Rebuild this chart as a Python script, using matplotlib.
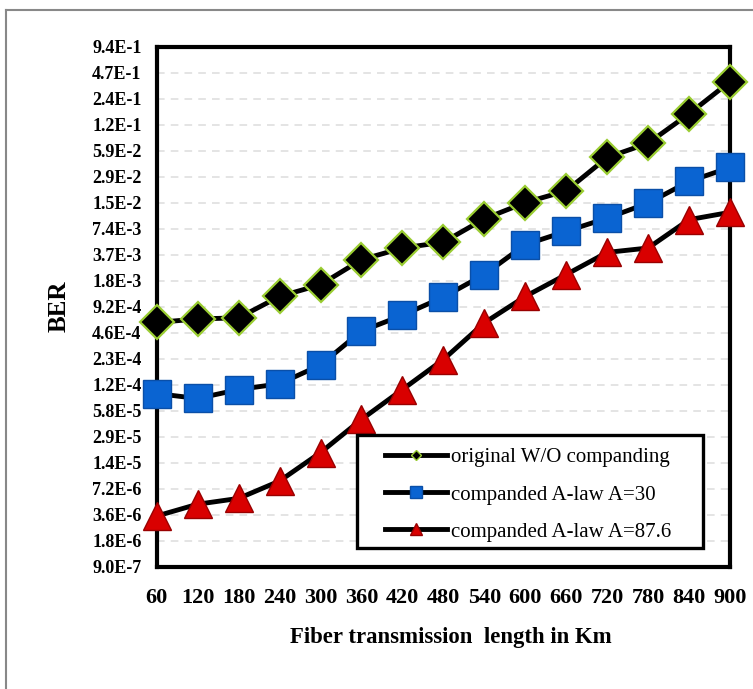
import numpy as np
import matplotlib
matplotlib.use("Agg")
import matplotlib.pyplot as plt
from matplotlib.lines import Line2D
from matplotlib.patches import Rectangle

plt.rcParams['font.family'] = ['Liberation Serif', 'DejaVu Serif']

# fiber length in km
length_km = [60, 120, 180, 240, 300, 360, 420, 480, 540, 600, 660, 720, 780, 840, 900]

# BER
ber_original = [6.1e-4, 6.7e-4, 6.9e-4, 1.22e-3, 1.67e-3, 3.25e-3, 4.44e-3, 5.18e-3,
                9.66e-3, 1.49e-2, 2.04e-2, 4.96e-2, 7.26e-2, 1.59e-1, 3.75e-1]
ber_a30 = [9.16e-5, 8.04e-5, 1.02e-4, 1.19e-4, 1.96e-4, 4.84e-4, 7.38e-4, 1.20e-3,
           2.19e-3, 4.86e-3, 6.93e-3, 9.86e-3, 1.47e-2, 2.62e-2, 3.81e-2]
ber_a876 = [3.5e-6, 4.8e-6, 5.6e-6, 8.9e-6, 1.9e-5, 4.6e-5, 1.02e-4, 2.27e-4,
            6.04e-4, 1.22e-3, 2.19e-3, 3.95e-3, 4.44e-3, 9.46e-3, 1.15e-2]

ytick_labels = ["9.0E-7", "1.8E-6", "3.6E-6", "7.2E-6", "1.4E-5", "2.9E-5", "5.8E-5",
                "1.2E-4", "2.3E-4", "4.6E-4", "9.2E-4", "1.8E-3", "3.7E-3", "7.4E-3",
                "1.5E-2", "2.9E-2", "5.9E-2", "1.2E-1", "2.4E-1", "4.7E-1", "9.4E-1"]

labels = ["original W/O companding", "companded A-law A=30", "companded A-law A=87.6"]

fig = plt.figure(figsize=(7.53, 6.89), dpi=100)
ax = fig.add_axes([0.2081, 0.1771, 0.7614, 0.7547])

# y axis doubles at every tick
yticks = 9.0e-7 * 2.0 ** np.arange(len(ytick_labels))
ax.set_yscale('log', base=2)
ax.set_ylim(yticks[0], yticks[-1])
ax.set_yticks(yticks)
ax.set_yticklabels(ytick_labels)
ax.set_yticks([], minor=True)

ax.set_xlim(60, 900)
ax.set_xticks(length_km)
ax.set_xticklabels([str(v) for v in length_km])

ax.yaxis.grid(True, color='#dddddd', linestyle=(0, (5, 4)), linewidth=1.1)
ax.set_axisbelow(True)

line_kw = dict(color='black', linewidth=3.5, clip_on=False, zorder=3)
ax.plot(length_km, ber_original, marker='D', markersize=17,
        markerfacecolor='black', markeredgecolor='#9acd32', markeredgewidth=1.6,
        **line_kw)
ax.plot(length_km, ber_a30, marker='s', markersize=19.5,
        markerfacecolor='#0a64d2', markeredgecolor='#0a4fa8', markeredgewidth=1,
        **line_kw)
ax.plot(length_km, ber_a876, marker='^', markersize=20,
        markerfacecolor='#d90000', markeredgecolor='#990000', markeredgewidth=1,
        **line_kw)

for s in ax.spines.values():
    s.set_linewidth(3)
    s.set_color('black')

ax.tick_params(axis='both', length=0)
ax.tick_params(axis='y', pad=11, labelsize=13)
ax.tick_params(axis='x', pad=15, labelsize=16)
for t in ax.get_xticklabels() + ax.get_yticklabels():
    t.set_fontweight('bold')

ax.set_xlabel("Fiber transmission  length in Km", fontsize=16.4, fontweight='bold')
ax.xaxis.set_label_coords(0.513, -0.116)
ax.set_ylabel("BER", fontsize=18, fontweight='bold')
ax.yaxis.set_label_coords(-0.150, 0.502)

# legend: frame drawn separately, entries placed inside it
handles = [
    Line2D([], [], color='black', lw=3.5, marker='D', ms=5,
           mfc='black', mec='#9acd32'),
    Line2D([], [], color='black', lw=3.5, marker='s', ms=9,
           mfc='#0a64d2', mec='#0a4fa8'),
    Line2D([], [], color='black', lw=3.5, marker='^', ms=9,
           mfc='#d90000', mec='#990000'),
]
ax.add_patch(Rectangle((0.349, 0.036), 0.6046, 0.218, transform=ax.transAxes,
                       facecolor='white', edgecolor='black', linewidth=2.4,
                       zorder=4, clip_on=False))
leg = ax.legend(handles, labels, loc='upper left', bbox_to_anchor=(0.398, 0.229),
                fontsize=15, handlelength=2.98, handletextpad=0.2,
                borderaxespad=0, borderpad=0, frameon=False, labelspacing=0.84)
leg.set_zorder(5)

# outer picture border (left and top only)
fig.add_artist(Line2D([0.008, 0.008], [0, 0.986], color='#888888', lw=1.5))
fig.add_artist(Line2D([0.008, 1.0], [0.986, 0.986], color='#888888', lw=1.5))

fig.savefig("out.png", dpi=100)
